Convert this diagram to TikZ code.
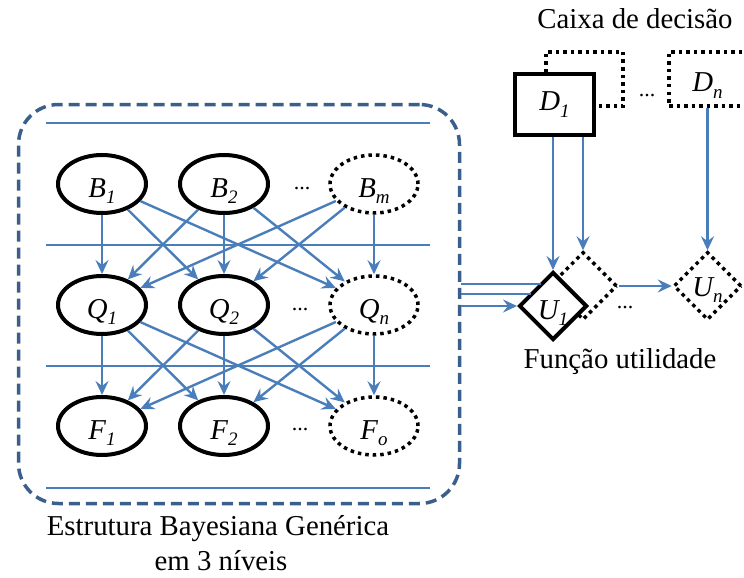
\documentclass[tikz,border=0pt]{standalone}
\usepackage{fontspec}
\setmainfont{Liberation Serif}
\usetikzlibrary{shapes.geometric,arrows.meta,calc}
\definecolor{arrblue}{HTML}{4A7EBB}
\definecolor{boxblue}{HTML}{3A5F8B}
\newcommand\lowsub[1]{\raisebox{-0.22em}{\fontsize{19}{21}\selectfont\itshape #1}}
\begin{document}
\begin{tikzpicture}[x=1pt,y=-1pt,
  every node/.style={font=\fontsize{28.8}{32}\selectfont},
  var/.style={ellipse,draw,line width=4pt,minimum width=88pt,minimum height=58pt,inner sep=0pt,text height=30pt,text depth=4pt},
  dotvar/.style={var,line width=3.5pt,dash pattern=on 3.5pt off 4pt},
  arr/.style={arrblue,line width=2.4pt,-{Stealth[length=14pt,width=13pt,inset=5pt]}},
  level/.style={arrblue,line width=2pt},
  ubox/.style={diamond,draw,line width=4pt,minimum width=68pt,minimum height=68pt,inner sep=0pt,aspect=1,text height=30pt,text depth=4pt},
  dbox/.style={rectangle,draw,line width=4.5pt,minimum width=79pt,minimum height=61pt,inner sep=0pt,fill=white},
  dotbox/.style={rectangle,draw,line width=3.5pt,dash pattern=on 3.5pt off 4pt,minimum width=77pt,minimum height=54pt,inner sep=0pt},
  dots/.style={font=\fontsize{22}{24}\selectfont}
]
\useasboundingbox (0,0) rectangle (744,578);
\clip (0,0) rectangle (744,578);

% Bayesian structure frame
\node[draw=boxblue,line width=3.5pt,dash pattern=on 11pt off 6pt,rounded corners=40pt,
      minimum width=441pt,minimum height=399pt,inner sep=0pt] (bayes) at (239,304) {};
\foreach \yy in {123,245,366,488}
  \draw[level] (46,\yy) -- (430,\yy);

% variables
\node[var] (B1) at (102,184) {\itshape B\lowsub{1}};
\node[var] (B2) at (224,184) {\itshape B\lowsub{2}};
\node[dotvar] (B3) at (374,184) {\itshape B\lowsub{m}};
\node[var] (Q1) at (102,305) {\itshape Q\lowsub{1}};
\node[var] (Q2) at (224,305) {\itshape Q\lowsub{2}};
\node[dotvar] (Q3) at (374,305) {\itshape Q\lowsub{n}};
\node[var] (F1) at (102,426) {\itshape F\lowsub{1}};
\node[var] (F2) at (224,426) {\itshape F\lowsub{2}};
\node[dotvar] (F3) at (374,426) {\itshape F\lowsub{o}};
\node[dots] (dB) at (302,189) {...};
\node[dots] (dQ) at (300,310) {...};
\node[dots] (dF) at (300,430) {...};

\foreach \i in {1,2,3}
  \foreach \j in {1,2,3}
  {
    \draw[arr] (B\i) -- (Q\j);
    \draw[arr] (Q\i) -- (F\j);
  }

% decision boxes
\node[dotbox] (D1b) at (584.5,79) {};
\node[dbox] (D1) at (554.5,104.5) {\itshape D\lowsub{1}};
\node[dotbox,text height=30pt,text depth=4pt] (Dn) at (707.5,79) {\itshape D\lowsub{n}};
\node[dots] (dD) at (647,96) {...};

% utility
\node[ubox,line width=3.5pt,dash pattern=on 3.5pt off 4pt] (U1b) at (583,286) {};
\node[ubox,fill=white] (U1) at (553,306) {\itshape U\lowsub{1}};
\node[ubox,line width=3.5pt,dash pattern=on 3.5pt off 4pt,text height=27pt,text depth=6pt] (Un) at (707.5,286) {\itshape U\lowsub{n}};
\node[dots] (dU) at (625,308) {...};

\draw[arr] (D1.south -| U1.north) -- (U1.north);
\draw[arr] (D1.south -| U1b.north) -- (U1b.north);
\draw[arr] (Dn) -- (Un);
\draw[arr] (U1b.east) -- (Un.west);

\coordinate (c3) at (bayes.east |- U1.west);
\draw[level] ($(c3)+(0,-22)$) -- ($(U1.center)+(-12,-22)$);
\draw[level] ($(c3)+(0,-12)$) -- ($(U1.center)+(-22,-12)$);
\draw[arr] (c3) -- (U1.west);

% texts
\node[anchor=base] (caixa) at (635,29) {Caixa de decisão};
\node[anchor=base] (func) at (620,368) {Função utilidade};
\node[anchor=base] (estr) at (218,535) {Estrutura Bayesiana Genérica};
\node[anchor=base] (niveis) at (221,570) {em 3 níveis};
\end{tikzpicture}
\end{document}
